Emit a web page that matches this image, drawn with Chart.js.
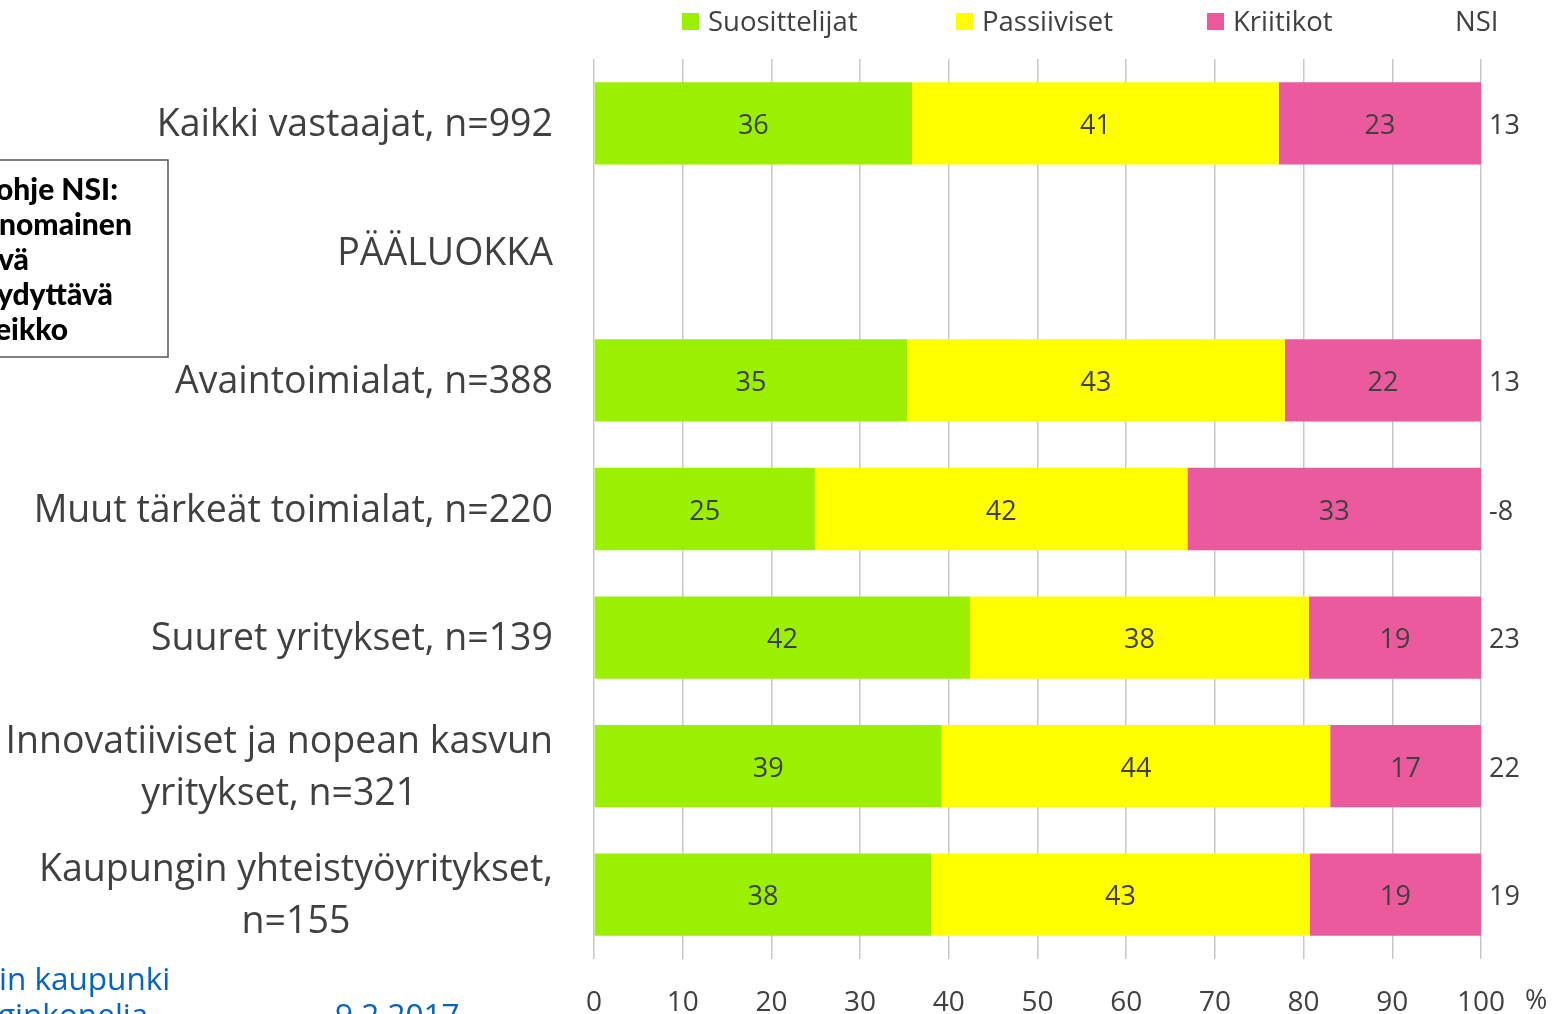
<!DOCTYPE html>
<html lang="fi">
<head>
<meta charset="UTF-8">
<title>NSI toimialoittain</title>
<script src="https://cdn.jsdelivr.net/npm/chart.js@4.4.1/dist/chart.umd.min.js"></script>
<style>
  * { margin: 0; padding: 0; box-sizing: border-box; }
  html, body { width: 1560px; height: 1014px; overflow: hidden; background: #fff; }
</style>
</head>
<body>
<canvas id="nsiChart" width="1560" height="1014"></canvas>
<script>
  // --- data ---
  const categories = [
    ['Kaikki vastaajat, n=992'],
    ['PÄÄLUOKKA'],
    ['Avaintoimialat, n=388'],
    ['Muut tärkeät toimialat, n=220'],
    ['Suuret yritykset, n=139'],
    ['Innovatiiviset ja nopean kasvun', 'yritykset, n=321'],
    ['Kaupungin yhteistyöyritykset,', 'n=155']
  ];
  const suosittelijat = [35.85, null, 35.3, 24.9, 42.4, 39.2, 38.0];
  const passiiviset   = [41.35, null, 42.6, 42.0, 38.2, 43.8, 42.7];
  const kriitikot     = [22.8,  null, 22.1, 33.1, 19.4, 17.0, 19.3];
  const nsi           = [13, null, 13, -8, 23, 22, 19];
  const xTicks = [0, 10, 20, 30, 40, 50, 60, 70, 80, 90, 100];

  const TXT = '#404040';
  const FONT = "'Open Sans', sans-serif";

  const overlay = {
    id: 'overlay',
    afterDatasetsDraw(chart) {
      const ctx = chart.ctx;
      ctx.save();
      ctx.fillStyle = TXT;
      ctx.font = '27px ' + FONT;
      ctx.textAlign = 'center';
      ctx.textBaseline = 'middle';
      chart.data.datasets.forEach((ds, i) => {
        chart.getDatasetMeta(i).data.forEach((bar, j) => {
          const v = ds.data[j];
          if (v == null) return;
          ctx.fillText(Math.round(v), (bar.x + bar.base) / 2, bar.y + 3);
        });
      });
      ctx.restore();
    },
    afterDraw(chart) {
      const ctx = chart.ctx;
      const y = chart.scales.y;
      const x = chart.scales.x;
      ctx.save();

      // category labels
      ctx.fillStyle = TXT;
      ctx.font = '37.5px ' + FONT;
      ctx.textBaseline = 'middle';
      const right = 553;
      categories.forEach((lines, i) => {
        const cy = y.getPixelForValue(i) + 2;
        if (lines.length === 1) {
          ctx.textAlign = 'right';
          ctx.fillText(lines[0], right, cy);
        } else {
          const w = Math.max(...lines.map(l => ctx.measureText(l).width));
          ctx.textAlign = 'center';
          const lh = 52;
          lines.forEach((l, k) => {
            ctx.fillText(l, right - w / 2, cy + (k - (lines.length - 1) / 2) * lh);
          });
        }
      });

      // NSI values
      ctx.font = '27px ' + FONT;
      ctx.textAlign = 'left';
      nsi.forEach((v, i) => {
        if (v == null) return;
        ctx.fillText(String(v), x.right + 8, y.getPixelForValue(i) + 3);
      });

      // percent sign after the x axis
      ctx.fillText('%', 1525, 1001);

      // legend
      const legend = [
        { label: 'Suosittelijat', color: '#9af000', x: 682 },
        { label: 'Passiiviset', color: '#ffff00', x: 956 },
        { label: 'Kriitikot', color: '#ec5a9e', x: 1207 }
      ];
      ctx.font = '27.5px ' + FONT;
      legend.forEach(l => {
        ctx.fillStyle = l.color;
        ctx.fillRect(l.x, 13, 17, 17);
        ctx.fillStyle = TXT;
        ctx.fillText(l.label, l.x + 26, 23);
      });
      ctx.fillText('NSI', 1455, 23);

      // cut-off note box on the left
      ctx.strokeStyle = '#555';
      ctx.lineWidth = 1.5;
      ctx.strokeRect(-10, 160, 178, 197);
      ctx.fillStyle = '#000';
      ctx.font = "900 30px Lato, sans-serif";
      ctx.textAlign = 'left';
      const note = [['ohje NSI:', -4], ['nomainen', -1], ['vä', -2], ['ydyttävä', -3], ['eikko', -5]];
      note.forEach((n, k) => ctx.fillText(n[0], n[1], 190 + k * 35));

      // footer text (cut by the page edge)
      ctx.fillStyle = '#0563c1';
      ctx.font = '31.5px ' + FONT;
      ctx.textBaseline = 'alphabetic';
      ctx.fillText('in kaupunki', -1, 990);
      ctx.fillText('ginkonelia', -2, 1026);
      ctx.fillText('9.2.2017', 335, 1026);

      ctx.restore();
    }
  };

  new Chart(document.getElementById('nsiChart'), {
    type: 'bar',
    data: {
      labels: categories,
      datasets: [
        { label: 'Suosittelijat', data: suosittelijat, backgroundColor: '#9af000' },
        { label: 'Passiiviset', data: passiiviset, backgroundColor: '#ffff00' },
        { label: 'Kriitikot', data: kriitikot, backgroundColor: '#ec5a9e' }
      ]
    },
    options: {
      indexAxis: 'y',
      responsive: false,
      animation: false,
      devicePixelRatio: 1,
      layout: { padding: { left: 594, right: 79, top: 59, bottom: 0 } },
      datasets: { bar: { categoryPercentage: 0.8, barPercentage: 0.8, borderWidth: 0 } },
      plugins: { legend: { display: false }, tooltip: { enabled: false } },
      scales: {
        x: {
          stacked: true,
          min: 0,
          max: 100,
          afterBuildTicks: s => { s.ticks = xTicks.map(v => ({ value: v })); },
          afterFit: s => { s.height = 55; },
          grid: { color: '#c8c8c8', lineWidth: 1.5, drawTicks: false },
          border: { display: false },
          ticks: { color: TXT, font: { family: FONT, size: 28 }, padding: 27 }
        },
        y: {
          stacked: true,
          display: false
        }
      }
    },
    plugins: [overlay]
  });
</script>
</body>
</html>
